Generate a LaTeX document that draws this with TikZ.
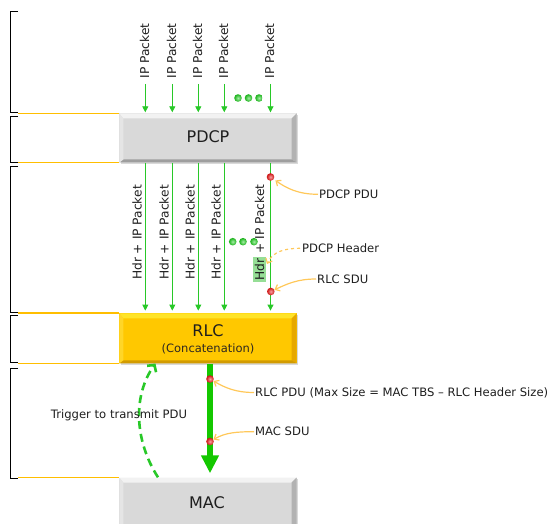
\documentclass[tikz,border=0pt]{standalone}
\usepackage{fontspec}
\setmainfont{DejaVu Sans}
\usetikzlibrary{arrows.meta,shadows}
\definecolor{gline}{RGB}{40,200,40}
\definecolor{gdot}{RGB}{30,210,30}
\definecolor{rdot}{RGB}{240,20,20}
\definecolor{gbig}{RGB}{20,200,0}
\definecolor{orangeln}{RGB}{255,190,0}
\definecolor{orangecv}{RGB}{255,200,90}
\definecolor{hdrbg}{RGB}{150,222,150}
\definecolor{txt}{RGB}{30,30,30}
\definecolor{goldface}{RGB}{255,200,0}
\definecolor{goldtop}{RGB}{255,228,40}
\definecolor{goldright}{RGB}{230,168,0}
\definecolor{goldbot}{RGB}{210,155,0}
\definecolor{goldleft}{RGB}{255,214,40}
\newcommand\lblfont{\fontsize{11.6}{13}\selectfont}
\newcommand\rotfont{\fontsize{12.2}{14}\selectfont}
\newcommand\boxfont{\fontsize{16}{18}\selectfont}
\tikzset{
 bevel/.style n args={5}{fill=#1, path picture={
  \path (path picture bounding box.north west) coordinate (bvnw)
        (path picture bounding box.north east) coordinate (bvne)
        (path picture bounding box.south east) coordinate (bvse)
        (path picture bounding box.south west) coordinate (bvsw);
  \path ([shift={(4pt,-5pt)}]bvnw) coordinate (bvinw)
        ([shift={(-5pt,-5pt)}]bvne) coordinate (bvine)
        ([shift={(-5pt,3pt)}]bvse) coordinate (bvise)
        ([shift={(4pt,3pt)}]bvsw) coordinate (bvisw);
  \fill[#2] (bvnw) -- (bvne) -- (bvine) -- (bvinw) -- cycle;
  \fill[#3] (bvne) -- (bvse) -- (bvise) -- (bvine) -- cycle;
  \fill[#4] (bvse) -- (bvsw) -- (bvisw) -- (bvise) -- cycle;
  \fill[#5] (bvsw) -- (bvnw) -- (bvinw) -- (bvisw) -- cycle;
 }},
 layerbox/.style={rectangle, inner sep=0pt, minimum width=177.4pt, minimum height=49pt,
   drop shadow={opacity=0.3, shadow xshift=1.2pt, shadow yshift=-1.5pt}},
 graybox/.style={layerbox, bevel={black!15}{black!5}{black!30}{black!38}{black!10}},
 goldbox/.style={layerbox, bevel={goldface}{goldtop}{goldright}{goldbot}{goldleft}},
 garrow/.style={gline, line width=0.9pt, -{Triangle[width=6pt,length=6pt]}},
 bracket/.style={black, line width=0.8pt},
 guideline/.style={orangeln, line width=1.3pt},
 callout/.style={orangecv, line width=1.2pt, -{Straight Barb[length=4pt,width=7pt]}},
 lbl/.style={anchor=west, inner sep=1pt, font=\lblfont, text=txt},
 rot/.style={rotate=90, inner sep=0pt, font=\rotfont, text=txt},
 gball/.style={inner color=gdot!40!white, outer color=gdot!85!black},
 rball/.style={inner color=rdot!40!white, outer color=rdot!85!black},
}
\begin{document}
\begin{tikzpicture}[x=1pt,y=-1pt]
\useasboundingbox (0,0) rectangle (555,524);
\clip (0,0) rectangle (555,524);

% brackets
\draw[bracket] (18,11) -- (10,11) -- (10,112) -- (18,112);
\draw[bracket] (18,116) -- (10,116) -- (10,162.5) -- (18,162.5);
\draw[bracket] (18,166) -- (10,166) -- (10,312) -- (18,312);
\draw[bracket] (18,315) -- (10,315) -- (10,362.5) -- (18,362.5);
\draw[bracket] (18,368) -- (10,368) -- (10,478) -- (18,478);
\coordinate (brk) at (18,0);

% boxes
\node[graybox, minimum height=49pt] (pdcp) at (208,138) {};
\node[goldbox, minimum height=50pt] (rlc) at (208,338.3) {};
\node[graybox, minimum height=52pt] (mac) at (208,503.5) {};
\node[font=\boxfont, text=txt] (pdcptxt) at (208,137) {PDCP};
\node[font=\boxfont, text=txt] (rlctxt) at (208,331) {RLC};
\node[font=\fontsize{11.5}{13}\selectfont, text=txt!90!brown] (rlcsub) at (208,349) {(Concatenation)};
\node[font=\boxfont, text=txt] (mactxt) at (207,502.5) {MAC};

% orange guide lines
\draw[guideline] (pdcp.north west) -- (pdcp.north west -| brk);
\draw[guideline] (pdcp.south west) -- (pdcp.south west -| brk);
\draw[guideline] (rlc.north west) -- (rlc.north west -| brk);
\draw[guideline] (rlc.south west) -- (rlc.south west -| brk);
\draw[guideline] (mac.north west) -- (mac.north west -| brk);

% columns
\foreach \i/\x in {1/145.3,2/172.3,3/198.3,4/224.3,5/270.5}{
  \coordinate (top\i) at (\x,84);
  \draw[garrow] (top\i) -- ([yshift=1pt]pdcp.north -| top\i);
  \node[rot, anchor=west] (ip\i) at (\x-0.8,78.5) {IP Packet};
  \draw[garrow] (pdcp.south -| top\i) -- ([yshift=2.5pt]rlc.north -| top\i);
}
\foreach \i/\x in {1/137,2/164,3/190,4/216}{
  \node[rot] (hip\i) at (\x,232.5) {Hdr + IP Packet};
}
\node[rot] (hip5) at (259.5,233.5) {\setlength{\fboxsep}{1.5pt}\colorbox{hdrbg}{Hdr} + IP Packet};

% ellipsis dots
\foreach \x in {238,248.5,259}{
  \shade[gball] (\x,98) circle (3.8pt);
}
\foreach \x in {232.7,243,254}{
  \shade[gball] (\x,241.7) circle (3.8pt);
}

% red dots on column 5
\coordinate (pdu) at (270.5,177);
\coordinate (sdu) at (270.8,291.5);
\shade[rball] (pdu) circle (3.8pt);
\shade[rball] (sdu) circle (3.8pt);
\coordinate (hdrpt) at (267,264);

% labels
\node[lbl] (lpdu) at (318,194.3) {PDCP PDU};
\node[lbl] (lhdr) at (301,248.3) {PDCP Header};
\node[lbl] (lsdu) at (316,279) {RLC SDU};
\draw[callout, shorten >=6pt] (lpdu.west) to[out=180,in=-35] (pdu);
\draw[callout, dashed] ([xshift=-1pt]lhdr.west) to[out=180,in=65] (hdrpt);
\draw[callout, shorten >=4pt] (lsdu.west) to[out=180,in=25] (sdu);

% thick RLC->MAC arrow
\coordinate (bax) at (210,0);
\draw[gbig, line width=5.3pt, -{Triangle[width=17pt,length=18pt]}, shorten >=4pt]
  (rlc.south -| bax) -- (mac.north -| bax);
\coordinate (rpdu) at (210,379);
\coordinate (msdu) at (210,441.5);
\shade[rball] (rpdu) circle (3.8pt);
\shade[rball] (msdu) circle (3.8pt);
\node[lbl] (lrpdu) at (254,392.5) {RLC PDU (Max Size = MAC TBS – RLC Header Size)};
\node[lbl] (lmsdu) at (254,431.7) {MAC SDU};
\draw[callout, shorten >=4pt] (lrpdu.west) to[out=180,in=-30] (rpdu);
\draw[callout, shorten >=4pt] (lmsdu.west) to[out=180,in=30] (msdu);

% trigger
\coordinate (tstart) at (158,477);
\coordinate (tend) at (155.5,364);
\draw[gline, line width=2.6pt, dash pattern=on 8pt off 5pt,
  -{Straight Barb[length=5pt,width=11pt,line width=2.6pt]}]
  (mac.north -| tstart) .. controls (134,440) and (133,395) .. (rlc.south -| tend);
\node[lbl, anchor=center] (ltrig) at (119,415.7) {Trigger to transmit PDU};
\end{tikzpicture}
\end{document}
